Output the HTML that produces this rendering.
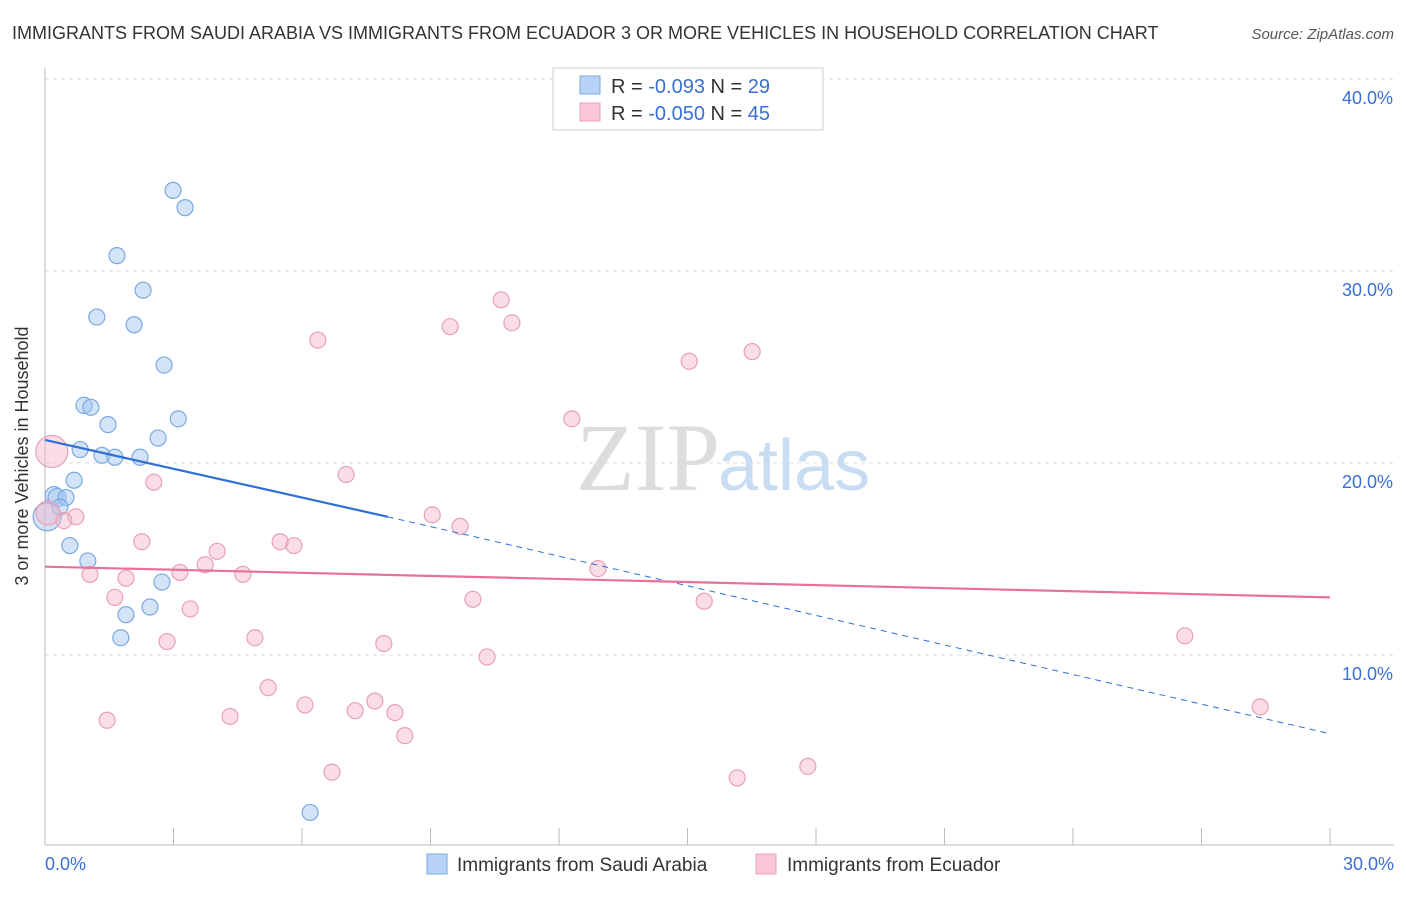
<!DOCTYPE html>
<html><head><meta charset="utf-8"><style>
body{margin:0;background:#fff;font-family:"Liberation Sans",sans-serif}
</style></head><body>
<svg width="1406" height="892" viewBox="0 0 1406 892" xmlns="http://www.w3.org/2000/svg">
<text x="12" y="39" font-size="18" fill="#333">IMMIGRANTS FROM SAUDI ARABIA VS IMMIGRANTS FROM ECUADOR 3 OR MORE VEHICLES IN HOUSEHOLD CORRELATION CHART</text>
<text x="1394" y="39" font-size="15" fill="#555" font-style="italic" text-anchor="end">Source: ZipAtlas.com</text>
<g id="grid"></g>
<text x="720" y="490" font-size="96" fill="#ddd" text-anchor="end" font-family="Liberation Serif,serif">ZIP</text>
<text x="718" y="490" font-size="72" fill="#c8dcf2">atlas</text>
<g id="marks"></g>
<text x="28" y="456" font-size="18" fill="#333" transform="rotate(-90 28 456)" text-anchor="middle">3 or more Vehicles in Household</text>
<g>
<rect x="553" y="68" width="270" height="62" fill="#fff" stroke="#ccc"/>
<rect x="580" y="76" width="20" height="18" fill="#b8d3f5" stroke="#7aa8e0"/>
<rect x="580" y="103" width="20" height="18" fill="#f9c6d6" stroke="#e8a0b8"/>
<text x="611" y="93" font-size="20" fill="#333">R = <tspan fill="#3a6fd8">-0.093</tspan>    N = <tspan fill="#3a6fd8">29</tspan></text>
<text x="611" y="120" font-size="20" fill="#333">R = <tspan fill="#3a6fd8">-0.050</tspan>    N = <tspan fill="#3a6fd8">45</tspan></text>
</g>
<g>
<rect x="427" y="854" width="20" height="20" fill="#b8d3f5" stroke="#7aa8e0"/>
<text x="457" y="871" font-size="19" fill="#333">Immigrants from Saudi Arabia</text>
<rect x="756" y="854" width="20" height="20" fill="#f9c6d6" stroke="#e8a0b8"/>
<text x="787" y="871" font-size="19" fill="#333">Immigrants from Ecuador</text>
</g>
</svg>
<script>
const blueX=[2.99,3.27,1.68,2.29,1.21,2.08,2.78,0.91,1.07,3.11,1.47,2.64,0.82,1.33,1.63,2.22,0.68,0.21,0.28,0.49,0.35,0.05,0.58,1.00,2.73,2.45,1.89,1.77,6.19];
const blueY=[34.2,33.3,30.8,29.0,27.6,27.2,25.1,23.0,22.9,22.3,22.0,21.3,20.7,20.4,20.3,20.3,19.1,18.3,18.2,18.2,17.7,17.2,15.7,14.9,13.8,12.5,12.1,10.9,1.8];
const pinkX=[0.16,10.65,9.46,10.90,6.37,15.04,16.51,12.30,7.03,2.54,0.07,0.72,0.44,9.04,9.69,2.26,5.49,5.81,4.02,3.74,12.91,1.05,3.15,4.62,1.89,1.63,9.99,3.39,15.39,2.85,4.90,7.91,10.32,26.61,5.21,6.07,7.24,7.70,8.17,8.40,1.45,4.32,28.37,6.70,16.16,17.81];
const pinkY=[20.6,28.5,27.1,27.3,26.4,25.3,25.8,22.3,19.4,19.0,17.4,17.2,17.0,17.3,16.7,15.9,15.9,15.7,15.4,14.7,14.5,14.2,14.3,14.2,14.0,13.0,12.9,12.4,12.8,10.7,10.9,10.6,9.9,11.0,8.3,7.4,7.1,7.6,7.0,5.8,6.6,6.8,7.3,3.9,3.6,4.2];
const blueTrend=[21.2,17.2,5.9]; // at x=0, 8, 30
const pinkTrend=[14.6,13.0]; // at x=0, 30
const yTicks=[10,20,30,40];
const yTickLabels=["10.0%","20.0%","30.0%","40.0%"];
const NS="http://www.w3.org/2000/svg";
const sx=v=>45+v*1285/30, sy=v=>847-v*19.2;
function mk(t,a,p){const e=document.createElementNS(NS,t);for(const k in a)e.setAttribute(k,a[k]);p.appendChild(e);return e;}
const grid=document.getElementById('grid'), marks=document.getElementById('marks');
yTicks.forEach((t,i)=>{
 const l=mk('line',{x1:45,x2:1394,y1:sy(t),y2:sy(t),stroke:'#ddd','stroke-dasharray':'4,4'},grid);
 
 
 const tx=mk('text',{x:1393,y:sy(t)+25,'font-size':18,fill:'#3a6fd8','text-anchor':'end'},grid);
 tx.textContent=yTickLabels[i];
 
 
});
const ax=mk('line',{x1:45,x2:45,y1:68,y2:845,stroke:'#bbb'},grid);


const bx=mk('line',{x1:45,x2:1394,y1:845,y2:845,stroke:'#bbb'},grid);


for(let i=0;i<=10;i++){const t=mk('line',{x1:sx(i*3),x2:sx(i*3),y1:828,y2:845,stroke:'#bbb'},grid);
 
 }
[["0.0%",45,'start'],["30.0%",1394,'end']].forEach(d=>{const t=mk('text',{x:d[1],y:870,'font-size':18,fill:'#3a6fd8','text-anchor':d[2]},grid);t.textContent=d[0];
 
 });
blueX.forEach((x,i)=>{const r=(x<0.3)?(i==21?14:9):8;const c=mk('circle',{cx:sx(x),cy:sy(blueY[i]),r:r,fill:'rgba(160,196,240,0.45)',stroke:'#7aa8e0','stroke-width':1.2},marks);
 
 });
pinkX.forEach((x,i)=>{const r=i==0?16:(i==10?12:8);const c=mk('circle',{cx:sx(x),cy:sy(pinkY[i]),r:r,fill:'rgba(245,180,200,0.45)',stroke:'#e8a0b8','stroke-width':1.2},marks);
 
 });
const b1=mk('line',{x1:sx(0),y1:sy(blueTrend[0]),x2:sx(8),y2:sy(blueTrend[1]),stroke:'#2f6fd6','stroke-width':2.2},marks);


const b2=mk('line',{x1:sx(8),y1:sy(blueTrend[1]),x2:sx(30),y2:sy(blueTrend[2]),stroke:'#2f6fd6','stroke-width':1,'stroke-dasharray':'6,5'},marks);


const p1=mk('line',{x1:sx(0),y1:sy(pinkTrend[0]),x2:sx(30),y2:sy(pinkTrend[1]),stroke:'#e8709a','stroke-width':2.2},marks);


</script>
</body></html>
